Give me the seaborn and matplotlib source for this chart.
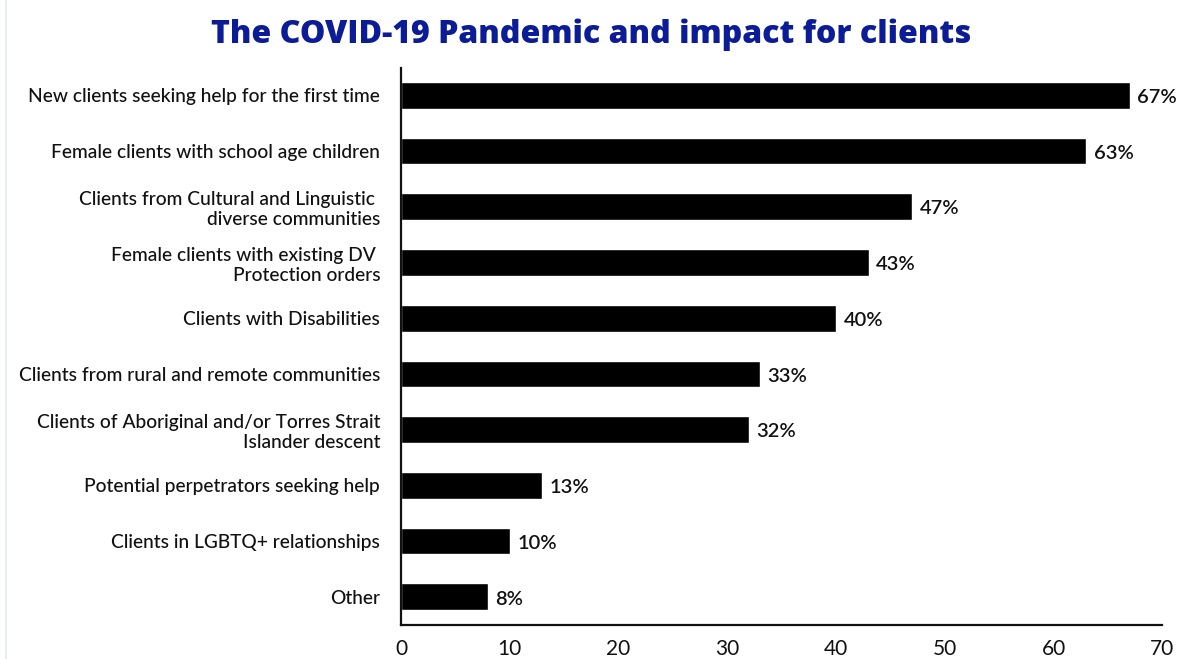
import matplotlib
matplotlib.use("Agg")
import matplotlib.pyplot as plt
from matplotlib.lines import Line2D
import seaborn as sns
import pandas as pd

categories = [
    "New clients seeking help for the first time",
    "Female clients with school age children",
    "Clients from Cultural and Linguistic \ndiverse communities",
    "Female clients with existing DV \nProtection orders",
    "Clients with Disabilities",
    "Clients from rural and remote communities",
    "Clients of Aboriginal and/or Torres Strait\nIslander descent",
    "Potential perpetrators seeking help",
    "Clients in LGBTQ+ relationships",
    "Other",
]
values = [67, 63, 47, 43, 40, 33, 32, 13, 10, 8]
x_ticks = [0, 10, 20, 30, 40, 50, 60, 70]

sns.set_theme(style="white")
plt.rcParams["font.family"] = ["Lato", "DejaVu Sans"]

df = pd.DataFrame({"category": categories, "value": values})

fig = plt.figure(figsize=(11.97, 6.59), dpi=100)
ax = fig.add_axes([0.335, 0.052, 0.636, 0.845])

sns.barplot(data=df, x="value", y="category", color="black",
            saturation=1, width=0.48, ax=ax, orient="h")

for patch, v in zip(ax.patches, values):
    y = patch.get_y() + patch.get_height() / 2
    ax.text(v + 0.7, y + 0.04, f"{v}%", va="center", ha="left",
            fontsize=14.5, fontweight="semibold", color="#111111")

ax.set_xlim(0, 70)
ax.set_ylim(9.5, -0.49)
ax.set_xticks(x_ticks)
ax.set_xticklabels([str(t) for t in x_ticks], fontsize=15, color="#111111")
ax.tick_params(axis="y", labelsize=13.8, labelcolor="#111111", pad=15, length=0)
ax.tick_params(axis="x", pad=10, length=0)
for lbl in ax.get_yticklabels():
    lbl.set_horizontalalignment("right")
    lbl.set_multialignment("right")
    lbl.set_fontweight("medium")
ax.set_xlabel("")
ax.set_ylabel("")

sns.despine(ax=ax, top=True, right=True)
for side in ("left", "bottom"):
    ax.spines[side].set_color("#111111")
    ax.spines[side].set_linewidth(1.6)

# thin panel edge on the left
fig.add_artist(Line2D([0.005, 0.005], [0, 1], transform=fig.transFigure,
                      color="#e3ebf0", linewidth=1.2))

fig.text(0.494, 0.948, "The COVID-19 Pandemic and impact for clients",
         ha="center", va="center", fontsize=23.1, fontweight="heavy",
         color="#0b1c96", family=["Open Sans", "DejaVu Sans"])

fig.savefig("out.png", dpi=100, facecolor="white")
